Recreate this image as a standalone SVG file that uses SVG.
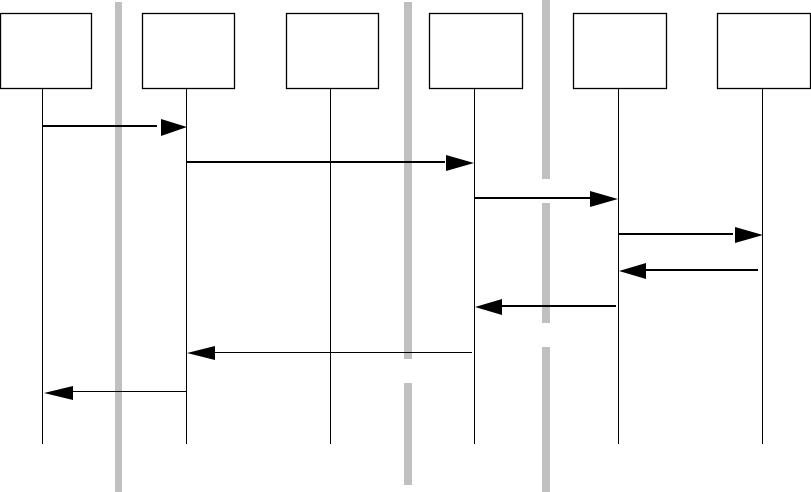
<svg xmlns="http://www.w3.org/2000/svg" width="811" height="492" viewBox="0 0 811 492">
<style>
.bar{fill:#c0c0c0;stroke:none}
.box{fill:#fff;stroke:#000;stroke-width:1.3}
.life{stroke:#000;stroke-width:1;fill:none}
.thick{stroke:#000;stroke-width:2.2;fill:none}
.thin{stroke:#000;stroke-width:1.2;fill:none}
.head{fill:#000;stroke:none}
</style>
<rect width="811" height="492" fill="#fff"/>
<g id="bars">
<rect class="bar" x="115" y="2" width="7" height="490"/>
<rect class="bar" x="404" y="2" width="8" height="357"/>
<rect class="bar" x="404" y="383" width="8" height="102"/>
<rect class="bar" x="542" y="0" width="8" height="179"/>
<rect class="bar" x="542" y="203" width="8" height="120"/>
<rect class="bar" x="542" y="347" width="8" height="145"/>
</g>
<g id="n1"><rect class="box" x="0.5" y="13.5" width="91" height="75"/><line class="life" x1="42.5" y1="88" x2="42.5" y2="444"/></g>
<g id="n2"><rect class="box" x="142.5" y="13.5" width="92" height="75"/><line class="life" x1="186.5" y1="88" x2="186.5" y2="444"/></g>
<g id="n3"><rect class="box" x="286.5" y="13.5" width="92" height="75"/><line class="life" x1="330.5" y1="88" x2="330.5" y2="444"/></g>
<g id="n4"><rect class="box" x="429.5" y="13.5" width="93" height="75"/><line class="life" x1="474.5" y1="88" x2="474.5" y2="444"/></g>
<g id="n5"><rect class="box" x="573.5" y="13.5" width="93" height="75"/><line class="life" x1="618.5" y1="88" x2="618.5" y2="444"/></g>
<g id="n6"><rect class="box" x="717.5" y="13.5" width="93" height="75"/><line class="life" x1="762.5" y1="88" x2="762.5" y2="444"/></g>
<g id="connectors">
<line class="thick" x1="42" y1="126" x2="157" y2="126"/>
<polygon class="head" points="161,119 187,127 161,136"/>
<line class="thick" x1="186" y1="162" x2="445" y2="162"/>
<polygon class="head" points="446,155 474,163 446,171"/>
<line class="thick" x1="474" y1="198" x2="590" y2="198"/>
<polygon class="head" points="590,191 618,199 590,207"/>
<line class="thick" x1="618" y1="234" x2="733" y2="234"/>
<polygon class="head" points="735,227 763,235 735,243"/>
<line class="thick" x1="646" y1="270" x2="758" y2="270"/>
<polygon class="head" points="646,263 619,271 646,279"/>
<line class="thick" x1="502" y1="306" x2="616" y2="306"/>
<polygon class="head" points="502,299 475,307 502,315"/>
<line class="thin" x1="215" y1="352.5" x2="472" y2="352.5"/>
<polygon class="head" points="215,346 187,353 215,360"/>
<line class="thin" x1="73" y1="391.5" x2="186" y2="391.5"/>
<polygon class="head" points="73,386 44,393 73,400"/>
</g>
</svg>
